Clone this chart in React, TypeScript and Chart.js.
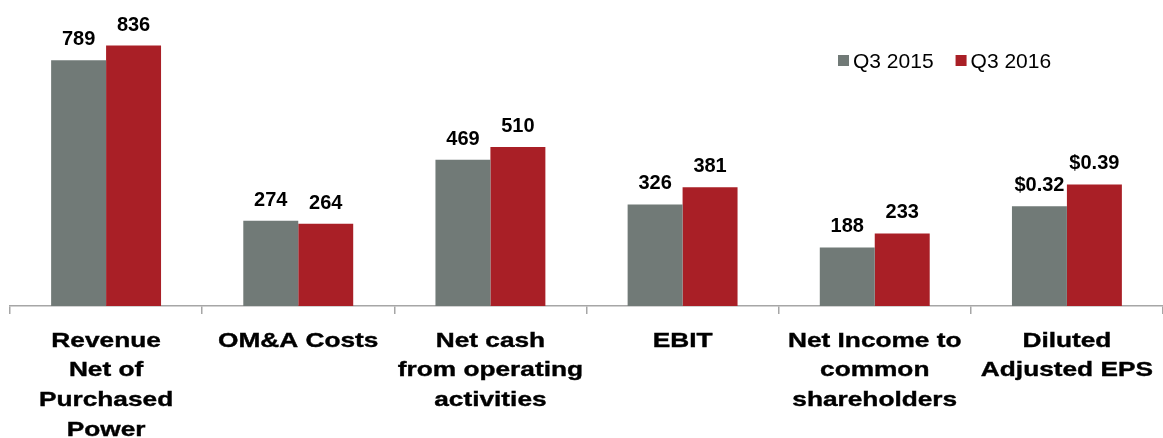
import React, { useEffect, useRef } from "react";
import { Chart, registerables } from "chart.js";

Chart.register(...registerables);

const categories: string[][] = [
  ["Revenue", "Net of", "Purchased", "Power"],
  ["OM&A Costs"],
  ["Net cash", "from operating", "activities"],
  ["EBIT"],
  ["Net Income to", "common", "shareholders"],
  ["Diluted", "Adjusted EPS"],
];
const seriesNames = ["Q3 2015", "Q3 2016"];
const q3_2015 = [789, 274, 469, 326, 188, 0.32];
const q3_2016 = [836, 264, 510, 381, 233, 0.39];
// EPS (in $) is drawn on its own visual scale in the original chart
const EPS_INDEX = 5;
const EPS_DRAW_FACTOR = 1000;
const seriesColors = ["#717a77", "#a91f26"];

const rawSeries = [q3_2015, q3_2016];
const toPlot = (arr: number[]) =>
  arr.map((v, i) => (i === EPS_INDEX ? v * EPS_DRAW_FACTOR : v));
const fmt = (v: number, i: number) =>
  i === EPS_INDEX ? `$${v.toFixed(2)}` : String(v);

const FONT = "'Liberation Sans', Arial, Helvetica, sans-serif";

const customPlugin = {
  id: "customLabels",
  afterDatasetsDraw(chart: any) {
    const ctx = chart.ctx as CanvasRenderingContext2D;
    ctx.save();
    ctx.fillStyle = "#000";
    ctx.strokeStyle = "#000";
    ctx.textAlign = "center";
    ctx.textBaseline = "alphabetic";
    // value labels
    ctx.font = `bold 20px ${FONT}`;
    chart.data.datasets.forEach((_ds: any, di: number) => {
      const meta = chart.getDatasetMeta(di);
      meta.data.forEach((bar: any, i: number) => {
        ctx.fillText(fmt(rawSeries[di][i], i), bar.x, bar.y - 15);
      });
    });
    // category labels (horizontally stretched like the original)
    const xs = chart.scales.x;
    const axisY = chart.chartArea.bottom;
    ctx.font = `bold 21px ${FONT}`;
    ctx.lineWidth = 0.4;
    categories.forEach((lines, i) => {
      const cx = xs.getPixelForValue(i);
      lines.forEach((line, li) => {
        ctx.save();
        ctx.translate(cx, axisY + 40.5 + li * 29.7);
        ctx.scale(1.25, 1);
        ctx.fillText(line, 0, 0);
        ctx.strokeText(line, 0, 0);
        ctx.restore();
      });
    });
    // legend
    ctx.font = `21px ${FONT}`;
    ctx.textAlign = "left";
    let x = 838;
    chart.data.datasets.forEach((ds: any) => {
      ctx.fillStyle = ds.backgroundColor;
      ctx.fillRect(x, 55, 11, 11);
      ctx.fillStyle = "#000";
      ctx.fillText(ds.label, x + 15, 68);
      x += 15 + ctx.measureText(ds.label).width + 22;
    });
    ctx.restore();
  },
};

export default function App() {
  const canvasRef = useRef<HTMLCanvasElement | null>(null);

  useEffect(() => {
    if (!canvasRef.current) return;
    const chart = new Chart(canvasRef.current, {
      type: "bar",
      data: {
        labels: categories,
        datasets: rawSeries.map((s, i) => ({
          label: seriesNames[i],
          data: toPlot(s),
          backgroundColor: seriesColors[i],
          borderWidth: 0,
          categoryPercentage: 0.572,
          barPercentage: 1.0,
        })),
      },
      options: {
        animation: false,
        responsive: true,
        maintainAspectRatio: false,
        layout: { padding: { left: 10, right: 0, top: 10, bottom: 0 } },
        plugins: {
          legend: { display: false },
          tooltip: { enabled: false },
        },
        scales: {
          x: {
            offset: true,
            grid: {
              display: true,
              offset: true,
              drawOnChartArea: false,
              drawTicks: true,
              tickLength: 8,
              color: "#a6a6a6",
              lineWidth: 1.5,
            },
            border: { display: true, color: "#a6a6a6", width: 1.5 },
            ticks: { display: false },
            afterFit: (scale: any) => {
              scale.height = 132;
            },
          },
          y: {
            display: false,
            min: 0,
            max: 950,
          },
        },
      },
      plugins: [customPlugin],
    });
    return () => chart.destroy();
  }, []);

  return (
    <div style={{ position: "fixed", left: 0, top: 0, width: 1163, height: 438, background: "#fff" }}>
      <canvas ref={canvasRef} />
    </div>
  );
}
